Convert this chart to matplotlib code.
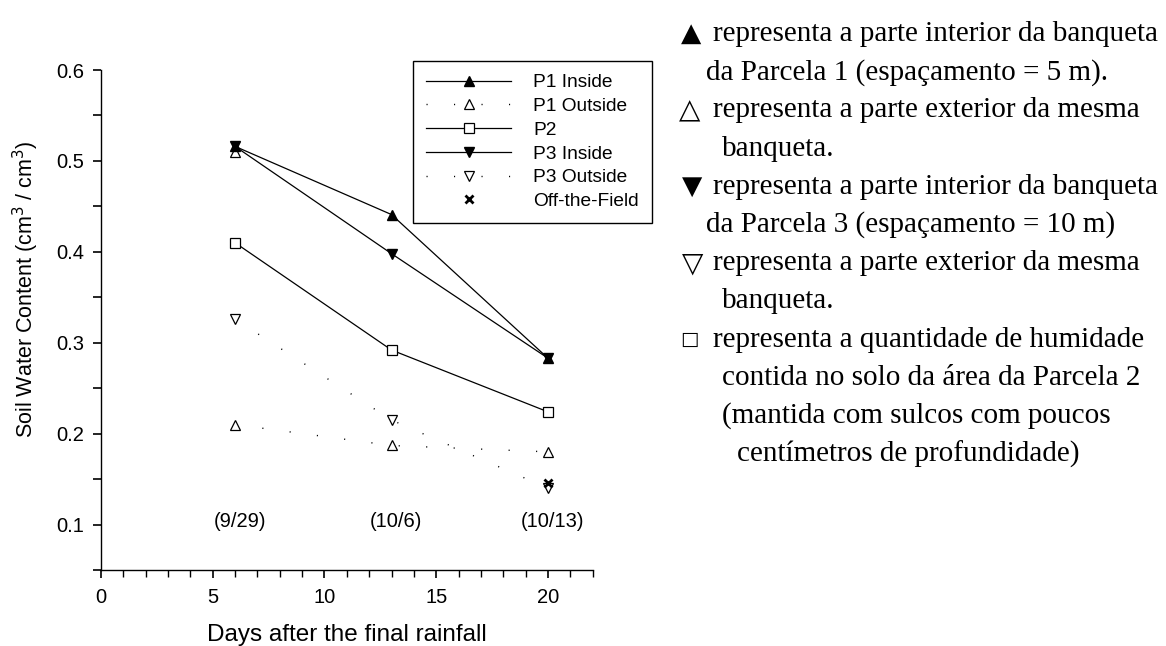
"""
Soil water content after the final rainfall, with a Portuguese key on the right.
Output: out.png
"""

import matplotlib.pyplot as plt
import matplotlib.ticker as mticker

# ── Data ────────────────────────────────────────────────
days = [6, 13, 20]
date_labels = ["(9/29)", "(10/6)", "(10/13)"]

p1_inside = [0.516, 0.441, 0.283]
p1_outside = [0.210, 0.187, 0.180]
p2 = [0.410, 0.292, 0.224]
p3_inside = [0.516, 0.398, 0.283]
p3_outside = [0.326, 0.215, 0.140]
off_field_x = [20]
off_field_y = [0.146]

# stray open-triangle reading sitting under the P1/P3 inside markers at day 6
p1_outside_extra_x = [6]
p1_outside_extra_y = [0.510]

key_lines = [
    ("▲", "representa a parte interior da banqueta", 0),
    ("", "da Parcela 1 (espaçamento = 5 m).", 1),
    ("△", "representa a parte exterior da mesma", 0),
    ("", "banqueta.", 2),
    ("▼", "representa a parte interior da banqueta", 0),
    ("", "da Parcela 3 (espaçamento = 10 m)", 1),
    ("▽", "representa a parte exterior da mesma", 0),
    ("", "banqueta.", 2),
    ("□", "representa a quantidade de humidade", 0),
    ("", "contida no solo da área da Parcela 2", 2),
    ("", "(mantida com sulcos com poucos", 2),
    ("", "centímetros de profundidade)", 3),
]

# ── Style ───────────────────────────────────────────────
plt.rcParams.update({
    "font.family": ["Liberation Sans", "DejaVu Sans"],
    "font.size": 14,
    "axes.linewidth": 1.0,
})

DOTTED = (0, (0.8, 19))
MS = 7
SERIF = ["Liberation Serif", "DejaVu Serif"]

fig = plt.figure(figsize=(11.66, 6.46), dpi=100)
ax = fig.add_axes([0.0866, 0.1176, 0.4217, 0.7740])

ax.plot(days, p1_inside, color="black", lw=0.9, marker="^", ms=MS,
        mfc="black", mec="black", label="P1 Inside")
ax.plot(days, p1_outside, color="black", lw=1.0, ls=DOTTED, marker="^", ms=MS,
        mfc="white", mec="black", mew=0.9, label="P1 Outside")
ax.plot(days, p2, color="black", lw=0.9, marker="s", ms=MS - 0.5,
        mfc="white", mec="black", mew=0.9, label="P2")
ax.plot(days, p3_inside, color="black", lw=0.9, marker="v", ms=MS,
        mfc="black", mec="black", label="P3 Inside")
ax.plot(days, p3_outside, color="black", lw=1.0, ls=DOTTED, marker="v", ms=MS,
        mfc="white", mec="black", mew=0.9, label="P3 Outside")
ax.plot(off_field_x, off_field_y, ls="none", marker="x", ms=6, mew=2,
        color="black", label="Off-the-Field")
ax.plot(p1_outside_extra_x, p1_outside_extra_y, ls="none", marker="^", ms=MS,
        mfc="white", mec="black", mew=0.9, zorder=1)

for d, lab in zip(days, date_labels):
    ax.text(d + 0.2, 0.103, lab, ha="center", va="center", fontsize=14.5)

ax.set_xlim(0, 22)
ax.set_ylim(0.05, 0.6)
ax.xaxis.set_major_locator(mticker.MultipleLocator(5))
ax.xaxis.set_minor_locator(mticker.MultipleLocator(1))
ax.yaxis.set_major_locator(mticker.MultipleLocator(0.1))
ax.yaxis.set_minor_locator(mticker.MultipleLocator(0.05))
ax.yaxis.set_major_formatter(mticker.FuncFormatter(lambda v, _: f"{v:.1f}"))
ax.tick_params(axis="both", which="major", direction="out", length=6, width=1.2,
               labelsize=14.5)
ax.tick_params(axis="x", which="major", pad=7)
ax.tick_params(axis="y", which="major", pad=6)
ax.tick_params(axis="x", which="minor", direction="out", length=5, width=1.0)
ax.tick_params(axis="y", which="minor", direction="out", length=6, width=1.2)

for side in ("top", "right"):
    ax.spines[side].set_visible(False)

ax.set_xlabel("Days after the final rainfall", fontsize=17.5, labelpad=12)
ax.set_ylabel("Soil Water Content (cm$^3$ / cm$^3$)", fontsize=15.5)
ax.yaxis.set_label_coords(-0.122, 0.562)

leg = ax.legend(loc="upper left", bbox_to_anchor=(413 / 1166, 1 - 61 / 646),
                bbox_transform=fig.transFigure, fontsize=13.8,
                handlelength=4.45, handletextpad=1.15, labelspacing=0.33,
                borderaxespad=0, borderpad=0.68, fancybox=False,
                framealpha=1, edgecolor="black")
leg.get_frame().set_linewidth(1.0)

# ── Portuguese key on the right ─────────────────────────
indent = {0: 713, 1: 706, 2: 722, 3: 737}
glyph_x = {"▲": 681, "△": 679, "▼": 682, "▽": 682, "□": 680}
glyph_size = {"▲": 19, "△": 20, "▼": 19, "▽": 20, "□": 14}
y0 = 34
step = 38.2
for i, (glyph, text, lvl) in enumerate(key_lines):
    y = 1 - (y0 + i * step) / 646
    if glyph:
        fig.text(glyph_x[glyph] / 1166, y, glyph, ha="left", va="center",
                 fontsize=glyph_size[glyph], family=["DejaVu Sans"])
    fig.text(indent[lvl] / 1166, y, text, ha="left", va="center",
             fontsize=21, family=SERIF)

fig.savefig("out.png", dpi=100)
